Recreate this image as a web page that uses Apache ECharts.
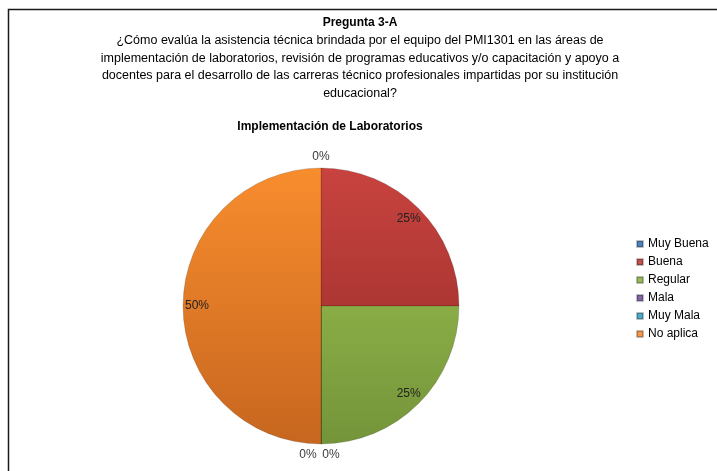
<!DOCTYPE html>
<html>
<head>
<meta charset="utf-8">
<script src="https://cdn.jsdelivr.net/npm/echarts@6/dist/echarts.min.js"></script>
<style>
  html, body { margin: 0; padding: 0; background: #fff; }
  #chart { width: 717px; height: 471px; }
</style>
</head>
<body>
<div id="chart"></div>
<script>
// 数据
const categories = ['Muy Buena', 'Buena', 'Regular', 'Mala', 'Muy Mala', 'No aplica'];
const values = [0, 1, 1, 0, 0, 2];
const baseColors = ['#4F81BD', '#C0504D', '#9BBB59', '#8064A2', '#4BACC6', '#F79646'];
const topColors = ['#5A8ECB', '#C8433F', '#A0C552', '#8A6DAE', '#55B8D2', '#F88D2E'];
const bottomColors = ['#3C6A9E', '#922A27', '#74943A', '#654E86', '#3A8EA6', '#C7661F'];

const questionLines = [
  '¿Cómo evalúa la asistencia técnica brindada por el equipo del PMI1301 en las áreas de',
  'implementación de laboratorios, revisión de programas educativos y/o capacitación y apoyo a',
  'docentes para el desarrollo de las carreras técnico profesionales impartidas por su institución',
  'educacional?'
];

const font = 'Liberation Sans';
const center = [321, 306];
const R = 138;

const chart = echarts.init(document.getElementById('chart'));

// 主饼图数据（全局渐变）
const mainData = categories.map((name, i) => ({
  name: name,
  value: values[i],
  itemStyle: {
    color: {
      type: 'linear', x: 0, y: center[1] - R, x2: 0, y2: center[1] + R, global: true,
      colorStops: [
        { offset: 0, color: topColors[i] },
        { offset: 1, color: bottomColors[i] }
      ]
    }
  }
}));

// 标签用的透明饼图
function labelData(zero) {
  return categories.map((name, i) => {
    const item = { name: name, value: values[i] };
    if (zero && name === 'Mala') item.label = { padding: [0, 26, 0, 0] };
    if (zero && name === 'Muy Mala') item.label = { padding: [0, 0, 0, 20] };
    return item;
  });
}

const option = {
  backgroundColor: '#fff',
  animation: false,
  graphic: [{
    type: 'rect',
    shape: { x: 8.5, y: 9.5, width: 760, height: 500 },
    style: { fill: 'none', stroke: '#1a1a1a', lineWidth: 1.5 },
    silent: true
  }],
  title: [{
    text: 'Pregunta 3-A',
    subtext: questionLines.join('\n'),
    left: 360,
    textAlign: 'center',
    top: 14,
    itemGap: 0,
    padding: 0,
    textStyle: { fontFamily: font, fontSize: 12, fontWeight: 'bold', color: '#000', lineHeight: 18 },
    subtextStyle: { fontFamily: font, fontSize: 12.5, color: '#000', lineHeight: 17.6, align: 'center' }
  }, {
    text: 'Implementación de Laboratorios',
    left: 330,
    textAlign: 'center',
    top: 118,
    padding: 0,
    textStyle: { fontFamily: font, fontSize: 12, fontWeight: 'bold', color: '#000', lineHeight: 18 }
  }],
  legend: {
    orient: 'vertical',
    left: 636,
    top: 237,
    itemWidth: 6,
    itemHeight: 6,
    itemGap: 4,
    icon: 'rect',
    padding: 0,
    textStyle: { fontFamily: font, fontSize: 12, color: '#000', lineHeight: 14 },
    data: categories.map((name, i) => ({ name: name, itemStyle: { color: baseColors[i] } }))
  },
  series: [{
    name: 'Implementación de Laboratorios',
    type: 'pie',
    center: center,
    radius: R,
    startAngle: 90,
    clockwise: true,
    label: { show: false },
    labelLine: { show: false },
    itemStyle: { borderColor: 'rgba(0,0,0,0.25)', borderWidth: 0.6 },
    emphasis: { disabled: true },
    data: mainData
  }, {
    // 非零百分比标签
    type: 'pie',
    center: center,
    radius: [104, R],
    startAngle: 90,
    silent: true,
    avoidLabelOverlap: false,
    itemStyle: { color: 'rgba(0,0,0,0)' },
    label: {
      show: true,
      position: 'inside',
      fontFamily: font,
      fontSize: 12,
      color: '#222',
      formatter: p => (p.value > 0 ? p.percent + '%' : '')
    },
    labelLine: { show: false },
    data: labelData(false)
  }, {
    // 0% 标签
    type: 'pie',
    center: center,
    radius: [136, 156],
    startAngle: 90,
    silent: true,
    avoidLabelOverlap: false,
    itemStyle: { color: 'rgba(0,0,0,0)' },
    label: {
      show: true,
      position: 'inside',
      fontFamily: font,
      fontSize: 12,
      color: '#3a3a3a',
      formatter: p => (p.value === 0 ? '0%' : '')
    },
    labelLine: { show: false },
    data: labelData(true)
  }]
};

chart.setOption(option);
</script>
</body>
</html>
